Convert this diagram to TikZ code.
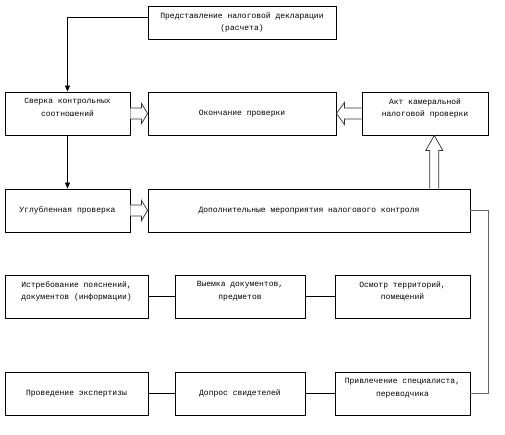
\documentclass[tikz,border=0pt]{standalone}
\usepackage{fontspec}
\setmainfont{Liberation Mono}
\usetikzlibrary{arrows.meta,calc}
\begin{document}
\begin{tikzpicture}[x=1pt,y=-1pt,
  box/.style={draw=black, line width=0.9pt, fill=white, inner sep=2pt,
    minimum height=43pt, align=center, font=\fontsize{8}{12.5}\selectfont},
  twoline/.style={text depth=12pt},
  conn/.style={draw=black, line width=0.8pt},
  grayconn/.style={draw=black!60, line width=1pt},
  arr/.style={conn, -{Triangle[length=6pt,width=5pt]}},
  blockarrow/.style={draw=black!80, line width=0.7pt, fill=white}]
\useasboundingbox (0,0) rectangle (505,435);

\node[box, minimum width=188pt, minimum height=33pt] (decl) at (242,22.5)
  {Представление налоговой декларации\\(расчета)};

\node[box, twoline, minimum width=125pt] (sverka) at (67.5,113.5) {Сверка контрольных\\соотношений};
\node[box, minimum width=188pt] (okon) at (242,113.5) {Окончание проверки};
\node[box, twoline, minimum width=126pt] (akt) at (425,113.5) {Акт камеральной\\налоговой проверки};

\node[box, minimum width=125pt] (uglub) at (67.5,210.5) {Углубленная проверка};
\node[box, minimum width=322pt] (dop) at (309,210.5) {Дополнительные мероприятия налогового контроля};

\node[box, twoline, minimum width=143pt] (istr) at (76.5,296.5) {Истребование пояснений,\\документов (информации)};
\node[box, twoline, minimum width=130pt] (vyem) at (240,296.5) {Выемка документов,\\предметов};
\node[box, twoline, minimum width=135pt] (osm) at (402.5,296.5) {Осмотр территорий,\\помещений};

\node[box, minimum width=143pt] (prov) at (76.5,393.5) {Проведение экспертизы};
\node[box, minimum width=130pt] (dopros) at (240,393.5) {Допрос свидетелей};
\node[box, twoline, minimum width=135pt] (privl) at (402.5,393.5) {Привлечение специалиста,\\переводчика};

% thin connectors
\draw[arr] ([yshift=5.5pt]decl.west) -| (sverka.north);
\draw[arr] (sverka.south) -- (uglub.north);
\draw[grayconn] (dop.east) -- ++(18,0) coordinate (corner) |- (privl.east);
\draw[conn] (istr.east) -- (vyem.west);
\draw[conn] (vyem.east) -- (osm.west);
\draw[conn] (prov.east) -- (dopros.west);
\draw[conn] (dopros.east) -- (privl.west);

% hollow block arrows
\draw[blockarrow] let \p1=(sverka.east), \p2=(okon.west) in
  (\x1,\y1+5.5pt) -- (\x2-6pt,\y1+5.5pt) -- (\x2-6pt,\y1+10pt) -- (\x2,\y1)
  -- (\x2-6pt,\y1-10pt) -- (\x2-6pt,\y1-5.5pt) -- (\x1,\y1-5.5pt);
\draw[blockarrow] let \p1=(uglub.east), \p2=(dop.west) in
  (\x1,\y1+5.5pt) -- (\x2-6pt,\y1+5.5pt) -- (\x2-6pt,\y1+10pt) -- (\x2,\y1)
  -- (\x2-6pt,\y1-10pt) -- (\x2-6pt,\y1-5.5pt) -- (\x1,\y1-5.5pt);
\draw[blockarrow] let \p1=(akt.west), \p2=(okon.east) in
  (\x1,\y1+5.5pt) -- (\x2+8pt,\y1+5.5pt) -- (\x2+8pt,\y1+11pt) -- (\x2,\y1)
  -- (\x2+8pt,\y1-11pt) -- (\x2+8pt,\y1-5.5pt) -- (\x1,\y1-5.5pt);
\coordinate (vstart) at ($(dop.north)!0.776!(dop.north east)$);
\draw[blockarrow] let \p1=(vstart), \p2=(akt.south) in
  (\x1-4.5pt,\y1) -- (\x1-4.5pt,\y2-15pt) -- (\x1-8.5pt,\y2-15pt) -- (\x1,\y2)
  -- (\x1+8.5pt,\y2-15pt) -- (\x1+4.5pt,\y2-15pt) -- (\x1+4.5pt,\y1);
\end{tikzpicture}
\end{document}
